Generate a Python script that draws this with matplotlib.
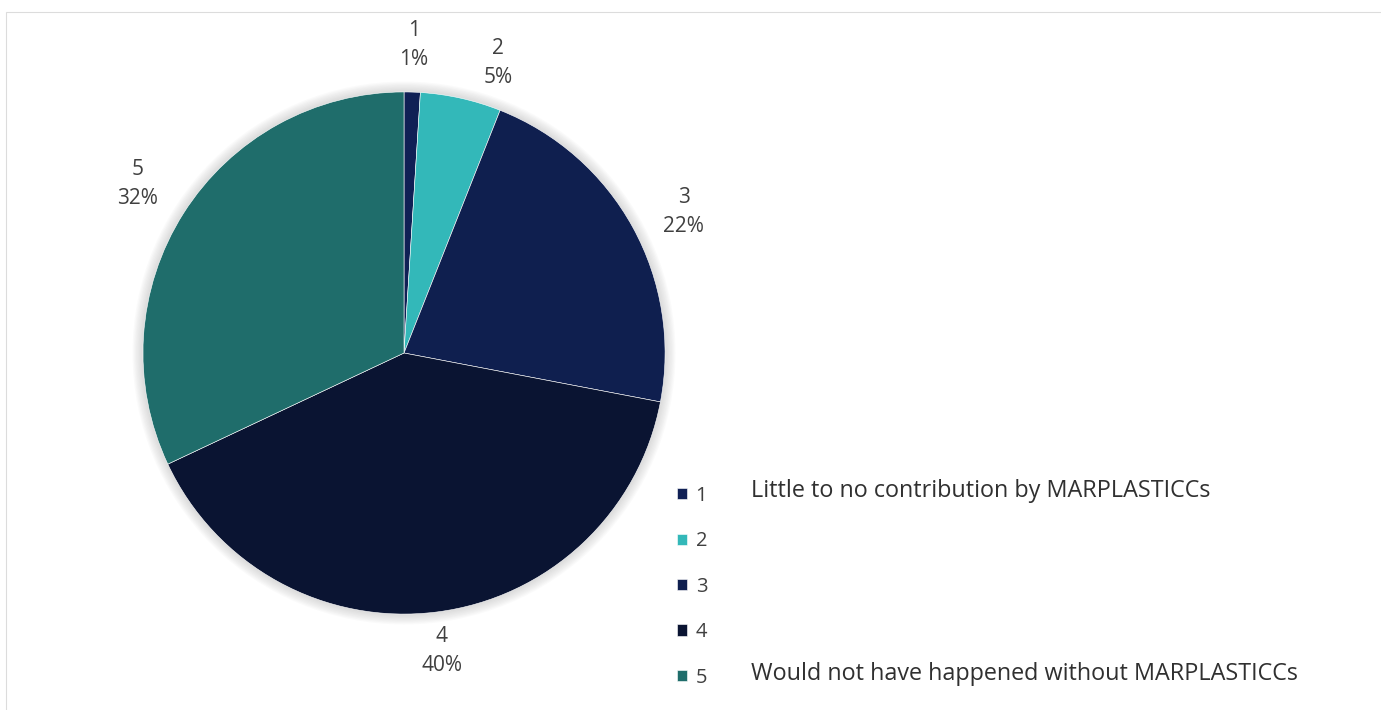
import numpy as np
import matplotlib.pyplot as plt
from matplotlib.patches import Rectangle, Circle

# Survey responses, scale 1-5
categories = ['1', '2', '3', '4', '5']
shares = [1, 5, 22, 40, 32]
colors = ['#102055', '#33b8b9', '#0f1f4f', '#0a1432', '#1f6d6b']
# radial distance and angular nudge (deg) of each data label
label_dist = [1.18, 1.17, 1.20, 1.15, 1.21]
label_nudge = [0, -5.4, -2, 0, 0]
scale_notes = {'1': 'Little to no contribution by MARPLASTICCs',
               '5': 'Would not have happened without MARPLASTICCs'}

plt.rcParams['font.family'] = ['Open Sans', 'DejaVu Sans']
text_color = '#404040'

fig = plt.figure(figsize=(13.81, 7.10), dpi=100)
fig.patches.append(Rectangle((6 / 1381, -0.1), 1.2, (710 - 12) / 710 + 0.1,
                             transform=fig.transFigure, fill=False,
                             edgecolor='#dcdcdc', linewidth=0.8))

ax = fig.add_axes([0.0279, -0.012, 0.5293, 1.0296])

# soft shadow around the pie
for i in range(8):
    ax.add_patch(Circle((0, 0), 1.0 + 0.005 * (i + 1), color='#808080',
                        alpha=0.035, linewidth=0, zorder=0))

wedges, _ = ax.pie(shares, colors=colors, startangle=90, counterclock=False,
                   radius=1.0, wedgeprops=dict(edgecolor='white', linewidth=0.4))
for w in wedges:
    w.set_zorder(2)

ax.set_xlim(-1.4, 1.4)
ax.set_ylim(-1.4, 1.4)
ax.set_aspect('equal')
ax.axis('off')

# category and percentage labels outside each wedge
for w, cat, val, d, nd in zip(wedges, categories, shares, label_dist, label_nudge):
    mid = np.deg2rad((w.theta1 + w.theta2) / 2 + nd)
    ax.text(d * np.cos(mid), d * np.sin(mid), f'{cat}\n{val}%',
            ha='center', va='center', fontsize=15, color=text_color,
            linespacing=1.5)

leg = fig.legend(wedges, categories, loc='upper left',
                 bbox_to_anchor=(0.477, 0.341), frameon=False,
                 handlelength=0.48, handleheight=0.48, handletextpad=0.45,
                 labelspacing=1.26, fontsize=14.5, labelcolor=text_color)

# notes for the ends of the scale
for cat, note in scale_notes.items():
    idx = categories.index(cat)
    y = 0.308 - idx * 0.0642
    fig.text(0.5438, y, note, ha='left', va='center', fontsize=16.8,
             color='#303030')

fig.savefig('out.png', dpi=100, facecolor='white')
